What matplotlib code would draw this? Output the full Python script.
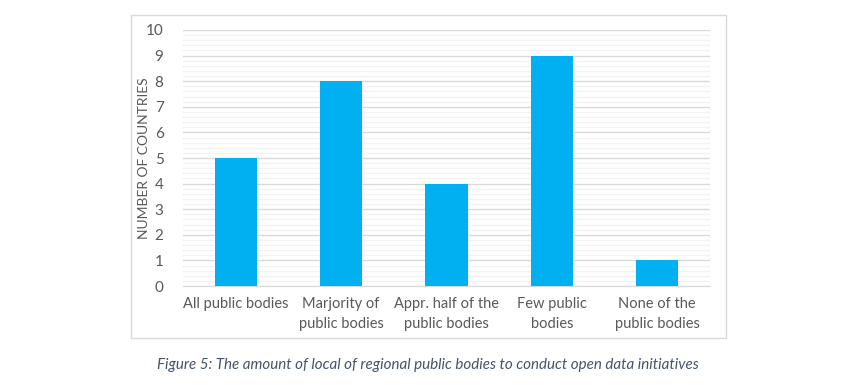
import matplotlib.pyplot as plt
from matplotlib.patches import Rectangle
from matplotlib.ticker import MultipleLocator

plt.rcParams['font.family'] = ['Lato', 'DejaVu Sans']

categories = ['All public bodies', 'Marjority of\npublic bodies', 'Appr. half of the\npublic bodies',
              'Few public\nbodies', 'None of the\npublic bodies']
countries = [5, 8, 4, 9, 1]

txt = '#595959'

fig = plt.figure(figsize=[8.5, 3.85], dpi=100)

# chart frame
fig.patches.append(Rectangle((0.154, 0.122), 0.700, 0.839, transform=fig.transFigure,
                             fill=False, edgecolor='#D9D9D9', linewidth=1))

ax = fig.add_axes([0.2153, 0.2571, 0.620, 0.665])
x = range(len(categories))
ax.bar(x, countries, width=0.4, color='#00B0F0', zorder=3)

ax.set_xlim(-0.5, len(categories) - 0.5)
ax.set_ylim(0, 10)
ax.yaxis.set_major_locator(MultipleLocator(1))
ax.yaxis.set_minor_locator(MultipleLocator(0.2))
ax.grid(axis='y', which='major', color='#D9D9D9', linewidth=1, zorder=0)
ax.grid(axis='y', which='minor', color='#F2F2F2', linewidth=1, zorder=0)
ax.set_axisbelow(True)

for s in ['top', 'right', 'left']:
    ax.spines[s].set_visible(False)
ax.spines['bottom'].set_color('#D9D9D9')

ax.set_xticks(list(x))
ax.set_xticklabels(categories, fontsize=10.5, color=txt, linespacing=1.5)
ax.tick_params(axis='x', length=0, pad=8)
ax.tick_params(axis='y', which='both', length=0, labelsize=11, labelcolor=txt, pad=14)

ax.set_ylabel('NUMBER OF COUNTRIES', fontsize=10, color=txt)
ax.yaxis.set_label_coords(-0.062, 0.5)

fig.text(0.503, 0.052, 'Figure 5: The amount of local of regional public bodies to conduct open data initiatives',
         ha='center', va='center', style='italic', fontsize=10.9, color='#44546A')

fig.savefig('out.png', dpi=100)
